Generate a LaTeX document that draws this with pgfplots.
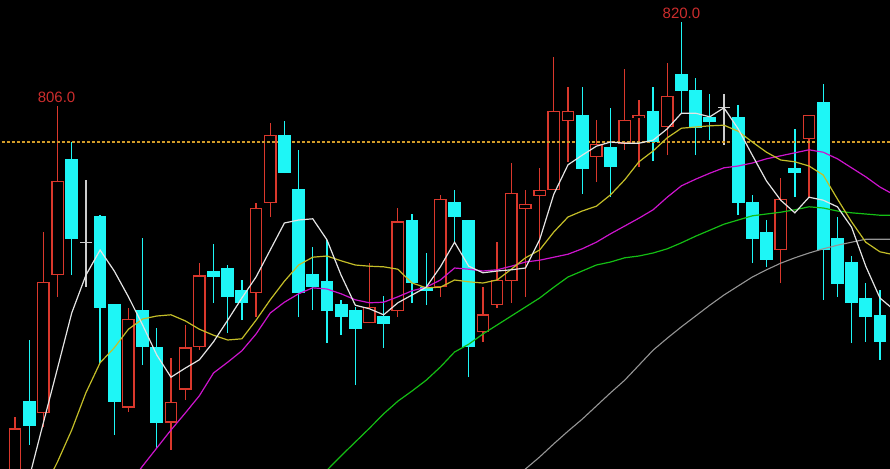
\documentclass[border=0pt]{standalone}
\usepackage{pgfplots}
\pgfplotsset{compat=1.18}
\usepackage{pgfplotstable}
\usepackage{fontspec}
\setmainfont{Liberation Sans}

\definecolor{upred}{RGB}{218,56,44}
\definecolor{dncyan}{RGB}{30,246,246}
\definecolor{dojigray}{RGB}{205,205,205}
\definecolor{ma5}{RGB}{228,228,228}
\definecolor{ma10}{RGB}{196,190,40}
\definecolor{ma20}{RGB}{205,20,205}
\definecolor{ma30}{RGB}{20,190,20}
\definecolor{ma60}{RGB}{150,150,150}
\definecolor{refline}{RGB}{210,155,40}
\definecolor{lblred}{RGB}{205,45,45}

% rising candles: x open high low close
\pgfplotstableread{
x  o     h     l     c
1  743.7 754.2 742.8 752.3
3  754.8 785.0 752.5 776.7
4  777.8 806.0 774.2 793.5
9  755.7 772.3 755.0 770.5
12 753.2 764.0 748.7 756.7
13 758.7 769.5 757.0 765.8
14 765.8 779.8 765.3 777.8
18 774.8 789.8 770.8 789.0
19 789.8 803.2 787.5 801.2
26 769.8 779.8 769.8 772.5
28 771.8 789.0 770.8 786.8
31 775.8 791.2 774.2 790.5
34 768.3 775.8 766.7 771.3
35 772.8 783.3 772.3 777.0
36 776.8 796.5 773.2 791.5
37 788.8 792.0 774.2 789.7
38 791.0 795.7 778.7 792.0
39 792.0 814.2 792.0 805.2
40 803.5 809.2 796.7 805.2
42 797.5 803.7 793.3 799.7
44 799.7 812.2 798.7 803.7
45 804.0 807.0 795.8 804.5
47 802.5 813.2 797.8 807.7
55 782.0 794.0 776.5 790.5
57 800.5 804.5 790.8 804.5
}\upcandles

% falling candles: x open high low close
\pgfplotstableread{
x  o     h     l     c
2  756.8 767.0 749.5 752.7
5  797.2 800.0 777.8 783.8
7  787.7 787.8 763.2 772.3
8  773.0 773.0 751.2 756.7
10 772.0 784.0 762.8 765.8
11 765.8 769.0 749.0 753.2
15 778.5 783.0 773.2 777.5
16 779.0 779.5 768.2 774.2
17 775.3 777.0 770.3 773.2
20 801.2 803.5 794.8 794.8
21 792.2 798.7 770.8 774.8
22 778.0 782.5 772.0 775.8
23 776.8 783.7 766.5 771.8
24 773.0 773.7 767.8 770.8
25 772.0 772.5 759.5 768.8
27 771.0 774.3 765.7 769.7
29 787.0 788.0 773.2 776.5
30 775.8 781.5 772.8 775.2
32 790.0 792.0 783.2 787.5
33 787.0 787.0 760.8 765.8
41 804.5 809.2 791.3 795.5
43 799.2 805.7 790.8 795.8
46 805.2 809.2 796.8 800.0
48 811.3 820.0 804.8 808.5
49 808.7 810.7 797.8 802.3
50 804.2 808.0 800.3 803.3
52 804.2 806.2 787.8 789.8
53 790.0 791.2 779.8 783.8
54 785.0 787.0 779.2 780.3
56 795.7 802.2 790.8 794.8
58 806.7 809.7 773.7 782.0
59 784.0 787.5 774.2 776.3
60 780.0 781.0 766.5 773.2
61 774.0 776.5 766.7 770.8
62 771.2 775.3 763.7 766.7
}\dncandles

% doji candles
\pgfplotstableread{
x  o     h     l
6  783.3 793.7 775.8
51 805.7 808.0 799.5
}\dojis

\pgfplotsset{
  wick/.style={draw=none, mark=none, forget plot,
    error bars/.cd, y dir=plus, y explicit, error mark=none,
    error bar style={draw=#1, line width=1.3pt, solid}},
  body/.style 2 args={draw=none, mark=none, forget plot,
    error bars/.cd, y dir=both, y explicit, error mark=none,
    error bar style={draw=#1, line width=#2, solid, line cap=butt}},
}

\begin{document}
\begin{tikzpicture}
\begin{axis}[
  width=890pt, height=469pt, scale only axis,
  xmin=-0.058, xmax=62.71,
  ymin=745.5, ymax=823.67,
  axis line style={draw=none}, ticks=none,
  axis background/.style={fill=black},
  clip=true,
]
% wicks
\addplot[wick=upred] table[x=x, y=l, y error expr=\thisrow{h}-\thisrow{l}] {\upcandles};
\addplot[wick=dncyan] table[x=x, y=l, y error expr=\thisrow{h}-\thisrow{l}] {\dncandles};
\addplot[wick=dojigray] table[x=x, y=l, y error expr=\thisrow{h}-\thisrow{l}] {\dojis};
% hollow rising bodies
\addplot[body={upred}{12.8pt}] table[x=x, y expr=(\thisrow{o}+\thisrow{c})/2,
  y error expr=(\thisrow{c}-\thisrow{o})/2] {\upcandles};
\addplot[body={black}{10.0pt}] table[x=x, y expr=(\thisrow{o}+\thisrow{c})/2,
  y error expr=(\thisrow{c}-\thisrow{o})/2-0.23] {\upcandles};

% reference level
\addplot[refline, line width=1.3pt, dash pattern=on 3pt off 2pt] coordinates {(-1,800) (64,800)};

% filled falling bodies
\addplot[body={dncyan}{12.8pt}] table[x=x, y expr=(\thisrow{o}+\thisrow{c})/2,
  y error expr=(\thisrow{o}-\thisrow{c})/2] {\dncandles};
% doji bars
\addplot[draw=none, mark=none, forget plot,
  error bars/.cd, x dir=both, x fixed=0.45, error mark=none,
  error bar style={draw=dojigray, line width=1.3pt, solid}] table[x=x, y=o] {\dojis};

% moving averages
\addplot[ma60, line width=1.1pt] coordinates {
(36,743.3) (37,745.5) (38,747.5) (39,749.7) (40,751.8) (41,753.8) (42,756.0)
(43,758.2) (44,760.3) (45,762.8) (46,765.3) (47,767.3) (48,769.2) (49,771.0)
(50,772.8) (51,774.5) (52,776.0) (53,777.5) (54,778.7) (55,779.8) (56,780.7)
(57,781.5) (58,782.2) (59,782.8) (60,783.3) (61,783.8) (62,783.8) (63,783.8)};
\addplot[ma30, line width=1.2pt] coordinates {
(22,743.7) (23,745.3) (24,747.7) (25,750.0) (26,752.3) (27,754.7) (28,756.8)
(29,758.5) (30,760.3) (31,762.5) (32,765.0) (33,766.3) (34,768.0) (35,769.5)
(36,771.0) (37,772.5) (38,774.0) (39,775.8) (40,777.5) (41,778.5) (42,779.5)
(43,780.0) (44,780.7) (45,781.0) (46,781.5) (47,782.2) (48,783.2) (49,784.3)
(50,785.3) (51,786.3) (52,787.0) (53,787.7) (54,788.0) (55,788.3) (56,788.7)
(57,789.2) (58,789.0) (59,788.5) (60,788.2) (61,788.0) (62,787.8) (63,787.8)};
\addplot[ma20, line width=1.2pt] coordinates {
(9,742.8) (10,746.0) (11,749.0) (12,752.0) (13,754.8) (14,757.7) (15,761.5)
(16,763.3) (17,765.2) (18,768.0) (19,771.5) (20,773.3) (21,774.7) (22,775.7)
(23,775.5) (24,774.7) (25,773.7) (26,773.2) (27,773.3) (28,774.2) (29,775.2)
(30,775.8) (31,777.0) (32,779.0) (33,778.8) (34,778.5) (35,778.7) (36,779.3)
(37,780.0) (38,780.3) (39,780.8) (40,781.3) (41,782.2) (42,783.3) (43,784.7)
(44,786.0) (45,787.3) (46,788.7) (47,790.8) (48,792.7) (49,793.8) (50,794.8)
(51,795.7) (52,796.0) (53,796.5) (54,797.2) (55,797.7) (56,798.2) (57,798.7)
(58,798.3) (59,797.2) (60,795.7) (61,794.2) (62,792.5) (63,791.2)};
\addplot[ma10, line width=1.2pt] coordinates {
(3,742.0) (4,746.7) (5,752.0) (6,758.2) (7,763.2) (8,765.7) (9,768.8)
(10,770.5) (11,771.0) (12,771.2) (13,770.2) (14,768.8) (15,767.8) (16,767.0)
(17,767.2) (18,770.3) (19,773.7) (20,776.8) (21,779.5) (22,780.8) (23,781.0)
(24,780.2) (25,779.5) (26,779.3) (27,779.2) (28,778.8) (29,776.5) (30,775.7)
(31,775.8) (32,777.0) (33,776.7) (34,776.5) (35,777.0) (36,778.8) (37,780.7)
(38,782.0) (39,785.0) (40,787.5) (41,788.5) (42,789.3) (43,791.2) (44,793.7)
(45,796.7) (46,798.5) (47,800.7) (48,802.3) (49,802.5) (50,802.7) (51,802.8)
(52,801.8) (53,800.0) (54,798.3) (55,797.0) (56,796.7) (57,796.0) (58,794.5)
(59,790.5) (60,786.7) (61,783.3) (62,781.7) (63,781.2)};
\addplot[ma5, line width=1.2pt] coordinates {
(2,744.0) (3,753.2) (4,762.3) (5,771.5) (6,777.8) (7,782.0) (8,778.5)
(9,774.2) (10,769.5) (11,764.5) (12,760.8) (13,762.3) (14,763.7) (15,766.7)
(16,770.3) (17,774.0) (18,777.5) (19,782.0) (20,786.5) (21,787.0) (22,787.2)
(23,783.7) (24,777.8) (25,772.8) (26,772.2) (27,771.2) (28,773.2) (29,774.5)
(30,775.8) (31,779.2) (32,783.3) (33,779.3) (34,778.2) (35,778.5) (36,778.7)
(37,779.0) (38,783.7) (39,791.3) (40,796.2) (41,797.8) (42,799.3) (43,800.0)
(44,799.8) (45,799.8) (46,800.3) (47,802.2) (48,804.8) (49,804.8) (50,804.2)
(51,805.7) (52,802.2) (53,797.8) (54,793.5) (55,790.3) (56,788.2) (57,790.8)
(58,790.3) (59,789.2) (60,785.8) (61,779.3) (62,774.0) (63,772.0)};

% extreme labels
\node[text=lblred, font=\fontsize{15}{15}\selectfont, anchor=base, inner sep=0pt,
  yshift=4pt, xshift=-1pt] at (axis cs:4,806) {806.0};
\node[text=lblred, font=\fontsize{15}{15}\selectfont, anchor=base, inner sep=0pt,
  yshift=4pt] at (axis cs:48,820) {820.0};
\end{axis}
\end{tikzpicture}
\end{document}
